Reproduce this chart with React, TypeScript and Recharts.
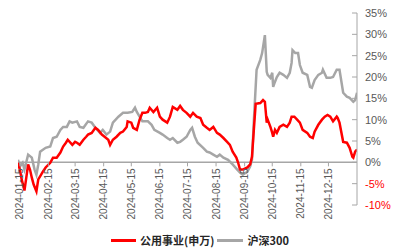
import React from 'react'
import { LineChart, Line, XAxis, YAxis, ReferenceLine } from 'recharts'

// day offsets from 2024-01-01
const utilityDays = [
  12, 14, 16, 19, 21, 23, 25, 27, 29, 32, 34, 36, 39, 42, 47, 50, 54, 58, 61, 64, 66, 71, 74, 76, 79,
  83, 86, 88, 92, 96, 99, 103, 106, 110, 112, 115, 119, 123, 126, 130, 131, 135, 137, 141, 144, 147,
  150, 153, 155, 159, 163, 166, 169, 174, 177, 180, 185, 188, 191, 195, 199, 202, 206, 210, 213, 217,
  220, 224, 228, 231, 235, 239, 242, 245, 249, 251, 253, 256, 261, 264, 266, 268, 270, 275, 278, 280,
  282, 283, 286, 288, 289, 291, 293, 296, 300, 304, 307, 309, 312, 315, 318, 321, 326, 329, 332, 334,
  338, 342, 345, 348, 351, 354, 358, 359, 361, 365, 369, 372, 375, 376, 378, 380,
]
const utilityValues = [
  -0.1, -1.7, -4.0, -6.6, -3.6, -0.5, -1.7, -3.6, -5.2, -6.8, -4.0, -3.3, -2.2, -1.2, -0.1, 1.1, 1.1,
  2.3, 3.7, 4.6, 5.3, 4.1, 4.8, 4.6, 4.1, 5.3, 6.0, 6.5, 6.9, 8.1, 7.6, 6.5, 6.0, 5.3, 4.1, 5.3, 6.0,
  6.9, 7.2, 8.3, 9.6, 9.3, 8.1, 7.6, 10.0, 11.6, 11.6, 11.8, 12.8, 11.8, 12.8, 10.7, 10.0, 9.3, 10.7,
  13.0, 12.3, 13.2, 12.3, 11.6, 10.7, 11.6, 10.7, 10.4, 8.8, 8.1, 7.6, 8.3, 6.9, 6.5, 5.7, 4.8, 4.1,
  2.5, 1.1, -0.1, -1.7, -1.7, -1.2, -0.5, 1.3, 7.6, 13.7, 13.9, 14.6, 14.2, 9.3, 10.0, 8.3, 6.9, 6.0,
  7.6, 6.9, 8.3, 8.8, 8.3, 9.3, 10.7, 10.7, 10.0, 9.3, 7.6, 6.9, 6.0, 5.7, 7.2, 8.8, 10.0, 10.7, 11.1,
  10.7, 9.6, 10.7, 10.4, 9.3, 4.8, 4.6, 3.4, 1.3, 1.1, 2.5, 3.0,
]

const csiDays = [
  12, 14, 17, 19, 23, 27, 30, 32, 34, 36, 42, 47, 50, 54, 58, 61, 65, 68, 71, 76, 79, 83, 88, 92, 96,
  101, 104, 108, 112, 115, 121, 126, 131, 136, 139, 141, 144, 147, 153, 157, 160, 166, 169, 174, 177,
  180, 185, 188, 191, 195, 199, 201, 204, 207, 213, 217, 220, 224, 228, 231, 235, 240, 245, 250, 253,
  256, 261, 264, 266, 268, 271, 275, 277, 280, 282, 283, 286, 288, 289, 291, 293, 296, 300, 304, 307,
  309, 310, 313, 316, 318, 321, 326, 329, 331, 334, 338, 342, 343, 347, 351, 354, 358, 361, 365, 369,
  372, 376, 378, 380,
]
const csiValues = [
  0.6, -1.0, -0.1, -1.7, 1.8, 1.1, -1.7, -2.9, -0.5, 2.5, 3.4, 3.7, 5.7, 6.0, 7.6, 8.3, 8.3, 9.6, 9.3,
  9.6, 8.3, 8.1, 9.6, 9.3, 8.1, 6.9, 7.6, 6.5, 7.2, 9.3, 10.7, 11.6, 11.6, 11.8, 12.8, 11.8, 10.7, 9.6,
  9.6, 8.8, 7.6, 6.9, 6.5, 5.7, 5.3, 5.7, 4.6, 4.8, 5.3, 6.0, 7.6, 8.1, 6.0, 4.6, 3.4, 2.5, 2.3, 1.8,
  1.3, 1.8, 1.1, 0.6, -0.5, -1.7, -2.4, -2.9, -2.2, -1.0, 0.6, 9.6, 21.7, 24.0, 25.6, 29.8, 21.2, 20.5,
  19.8, 21.0, 17.7, 18.9, 20.0, 21.0, 20.5, 19.8, 21.0, 23.3, 26.3, 25.6, 25.6, 22.8, 21.0, 20.5, 17.7,
  17.5, 19.3, 20.5, 21.0, 21.7, 19.8, 19.8, 20.0, 21.7, 21.7, 16.3, 15.4, 15.1, 14.2, 14.6, 16.3,
]

const tickDays = [14, 45, 74, 105, 135, 166, 196, 227, 258, 288, 319, 349]
const tickLabels = [
  '2024-01-15', '2024-02-15', '2024-03-15', '2024-04-15', '2024-05-15', '2024-06-15',
  '2024-07-15', '2024-08-15', '2024-09-15', '2024-10-15', '2024-11-15', '2024-12-15',
]
const yTicks = [-10, -5, 0, 5, 10, 15, 20, 25, 30, 35]

const utilityData = utilityDays.map((day, i) => ({ day, value: utilityValues[i] }))
const csiData = csiDays.map((day, i) => ({ day, value: csiValues[i] }))

const AXIS_GRAY = '#a6a6a6'
const TEXT_GRAY = '#595959'
const FONT = '"Liberation Sans", Arial, sans-serif'
const Y_MIN = -10
const Y_MAX = 35
const MARGIN = { top: 13, right: 0, left: 18, bottom: 45 }
const CHART_H = 251
const PLOT_H = CHART_H - MARGIN.top - MARGIN.bottom - 1
// distance from the plot bottom up to the 0% line
const ZERO_OFFSET = ((0 - Y_MIN) / (Y_MAX - Y_MIN)) * PLOT_H

const XTick = (props: any) => {
  const { x, y, payload } = props
  const zeroY = y - ZERO_OFFSET
  const label = tickLabels[tickDays.indexOf(payload.value)] ?? ''
  return (
    <g>
      <line x1={x} x2={x} y1={zeroY} y2={zeroY + 4} stroke={AXIS_GRAY} strokeWidth={1} />
      <text
        x={0}
        y={0}
        transform={`translate(${x + 3.5},${zeroY + 6}) rotate(-90)`}
        textAnchor="end"
        fontSize={10}
        fontFamily={FONT}
        fill={TEXT_GRAY}
      >
        {label}
      </text>
    </g>
  )
}

const YTick = (props: any) => {
  const { x, y, payload } = props
  const v = payload.value
  return (
    <g>
      <line x1={x - 5} x2={x} y1={y} y2={y} stroke={AXIS_GRAY} strokeWidth={1} />
      <text x={x + 8} y={y + 4} fontSize={11} fontFamily={FONT} fill={v < 0 ? '#ff0000' : TEXT_GRAY}>
        {`${v}%`}
      </text>
    </g>
  )
}

export default function App() {
  return (
    <div style={{ position: 'absolute', left: 0, top: 0, width: 400, height: CHART_H, background: '#fff' }}>
      <LineChart width={400} height={CHART_H} margin={MARGIN}>
        <XAxis
          type="number"
          dataKey="day"
          domain={[12, 380]}
          ticks={tickDays}
          interval={0}
          height={1}
          axisLine={false}
          tickLine={false}
          tickSize={0}
          tickMargin={0}
          tick={<XTick />}
          allowDataOverflow
        />
        <YAxis
          orientation="right"
          domain={[Y_MIN, Y_MAX]}
          ticks={yTicks}
          interval={0}
          width={43}
          axisLine={{ stroke: AXIS_GRAY, strokeWidth: 1 }}
          tickLine={false}
          tickSize={0}
          tickMargin={0}
          tick={<YTick />}
          allowDataOverflow
        />
        <ReferenceLine y={0} stroke={AXIS_GRAY} strokeWidth={1.5} />
        <Line
          data={csiData}
          dataKey="value"
          type="linear"
          stroke="#a6a6a6"
          strokeWidth={2.5}
          dot={false}
          isAnimationActive={false}
        />
        <Line
          data={utilityData}
          dataKey="value"
          type="linear"
          stroke="#ff0000"
          strokeWidth={2.5}
          dot={false}
          isAnimationActive={false}
        />
      </LineChart>
      <div
        style={{
          position: 'absolute',
          left: 0,
          top: 232,
          width: 400,
          display: 'flex',
          justifyContent: 'center',
          alignItems: 'center',
          fontFamily: '"Noto Sans CJK SC", sans-serif',
          fontSize: 11,
          fontWeight: 700,
          color: '#262626',
        }}
      >
        <span style={{ display: 'inline-block', width: 25, height: 3, background: '#ff0000', marginRight: 4 }} />
        <span>公用事业(申万)</span>
        <span style={{ display: 'inline-block', width: 26, height: 3, background: '#a6a6a6', margin: '0 4px 0 3px' }} />
        <span>沪深300</span>
      </div>
    </div>
  )
}
